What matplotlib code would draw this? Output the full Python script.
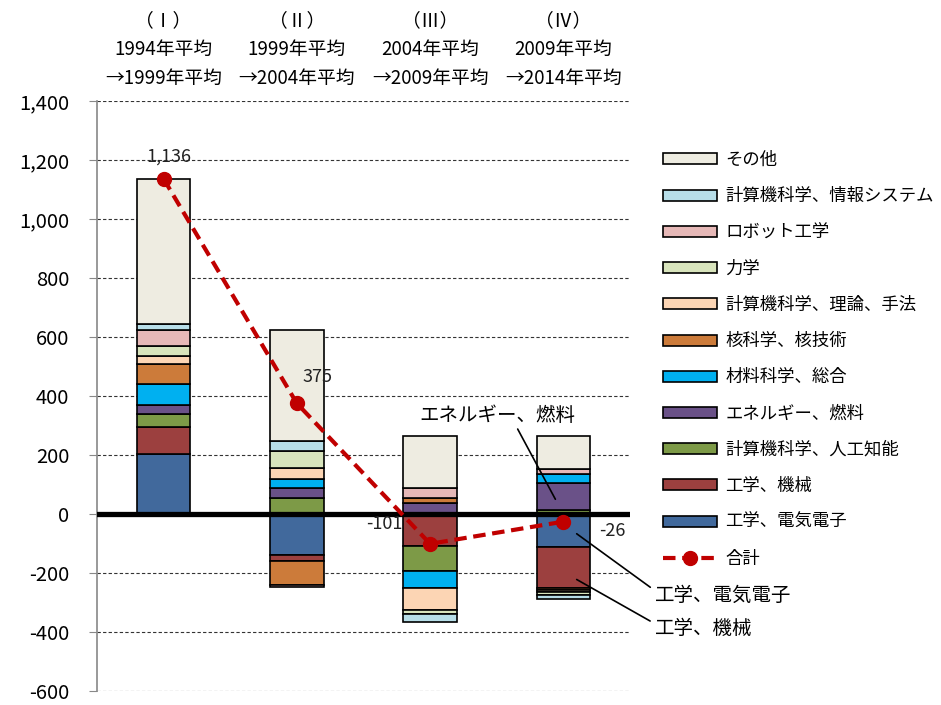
import matplotlib
matplotlib.use("Agg")
import matplotlib.pyplot as plt
import numpy as np

plt.rcParams['font.family'] = ['Noto Sans CJK JP', 'DejaVu Sans']

# ---- data ----
periods = ["（Ⅰ）\n1994年平均\n→1999年平均",
           "（Ⅱ）\n1999年平均\n→2004年平均",
           "（Ⅲ）\n2004年平均\n→2009年平均",
           "（Ⅳ）\n2009年平均\n→2014年平均"]

series_names = ["工学、電気電子", "工学、機械", "計算機科学、人工知能", "エネルギー、燃料",
                "材料科学、総合", "核科学、核技術", "計算機科学、理論、手法", "力学",
                "ロボット工学", "計算機科学、情報システム", "その他"]

elec    = [205, -139,    0, -113]
mech    = [ 90,  -20, -109, -137]
ai      = [ 43,   54,  -84,   12]
energy  = [ 33,   33,   38,   94]
material= [ 68,   30,  -58,   29]
nuclear = [ 69,  -81,   16,   -8]
theory  = [ 26,   40,  -73,   -8]
mechanics=[ 36,   55,  -15,   -8]
robot   = [ 54,   -8,   35,   16]
infosys = [ 19,   36,  -27,  -15]
other   = [493,  375,  176,  112]

totals = [1136, 375, -101, -26]
total_labels = ["1,136", "375", "-101", "-26"]

colors = ["#41699C", "#9C403F", "#7D9A47", "#6A5188", "#00B0F0", "#CC7B3A",
          "#FCD5B4", "#D8E4BC", "#E6B8B7", "#B7DEE8", "#EEECE1"]

values = [elec, mech, ai, energy, material, nuclear, theory, mechanics, robot, infosys, other]

# ---- figure ----
fig = plt.figure(figsize=(9.41, 7.05), dpi=100)
ax = fig.add_axes([97/941, 14/705, 533/941, 590/705])

x = np.arange(len(periods))
pos_bottom = np.zeros(len(x))
neg_bottom = np.zeros(len(x))
handles = []
for name, vals, col in zip(series_names, values, colors):
    v = np.array(vals, dtype=float)
    bottoms = np.where(v >= 0, pos_bottom, neg_bottom)
    b = ax.bar(x, v, width=0.4, bottom=bottoms, color=col, edgecolor="black",
               linewidth=1.2, label=name, zorder=3)
    handles.append(b)
    pos_bottom = pos_bottom + np.where(v >= 0, v, 0)
    neg_bottom = neg_bottom + np.where(v < 0, v, 0)

ln, = ax.plot(x, totals, color="#C00000", linestyle=(0, (3, 1.6)), linewidth=3,
              marker="o", markersize=10, zorder=6, label="合計")

offsets = [(4, 16), (15, 19), (-33, 14), (35, -7)]
for xi, t, lab, off in zip(x, totals, total_labels, offsets):
    ax.annotate(lab, (xi, t), xytext=off, textcoords="offset points",
                ha="center", va="center", fontsize=13, color="#222222", zorder=7)

ax.axhline(0, color="black", linewidth=3.8, zorder=4)

ax.set_xlim(-0.5, 3.5)
ax.set_ylim(-600, 1400)
ax.set_yticks(np.arange(-600, 1401, 200))
ax.set_yticklabels([f"{v:,}" for v in range(-600, 1401, 200)], fontsize=14.5)
ax.yaxis.grid(True, linestyle=(0, (3, 2)), color="#333333", linewidth=0.8, zorder=0)
ax.set_axisbelow(True)
ax.set_xticks([])
for s in ["top", "right", "bottom"]:
    ax.spines[s].set_visible(False)
ax.spines["left"].set_color("#888888")
ax.spines["left"].set_linewidth(1.2)
ax.tick_params(axis="y", direction="out", length=6, color="#888888", pad=14)

# header labels
for xi, lab in zip(x, periods):
    ax.text(xi, 1.02, lab, transform=ax.get_xaxis_transform(), ha="center", va="bottom",
            fontsize=13.5, linespacing=1.5, clip_on=False)

# annotations
ax.annotate("エネルギー、燃料", xy=(2.94, 50), xytext=(1.92, 333),
            ha="left", va="center", fontsize=14, zorder=7,
            arrowprops=dict(arrowstyle="-", color="black", lw=1.2,
                            shrinkA=0, shrinkB=0, relpos=(0.62, 0.0)),
            annotation_clip=False)
ax.annotate("工学、電気電子", xy=(3.1, -67), xytext=(3.69, -275),
            ha="left", va="center", fontsize=14, zorder=7,
            arrowprops=dict(arrowstyle="-", color="black", lw=1.2,
                            shrinkA=2, shrinkB=0, relpos=(0.0, 0.7)),
            annotation_clip=False)
ax.annotate("工学、機械", xy=(3.1, -222), xytext=(3.69, -387),
            ha="left", va="center", fontsize=14, zorder=7,
            arrowprops=dict(arrowstyle="-", color="black", lw=1.2,
                            shrinkA=2, shrinkB=0, relpos=(0.0, 0.7)),
            annotation_clip=False)

leg_handles = handles[::-1] + [ln]
leg_labels = series_names[::-1] + ["合計"]
fig.legend(leg_handles, leg_labels, loc="upper left", bbox_to_anchor=(663/941, 1 - 151/705),
           frameon=False, fontsize=12.5, handlelength=3.1, handleheight=0.6,
           labelspacing=1.05, handletextpad=0.5, borderpad=0, borderaxespad=0)

fig.savefig("out.png", dpi=100)
